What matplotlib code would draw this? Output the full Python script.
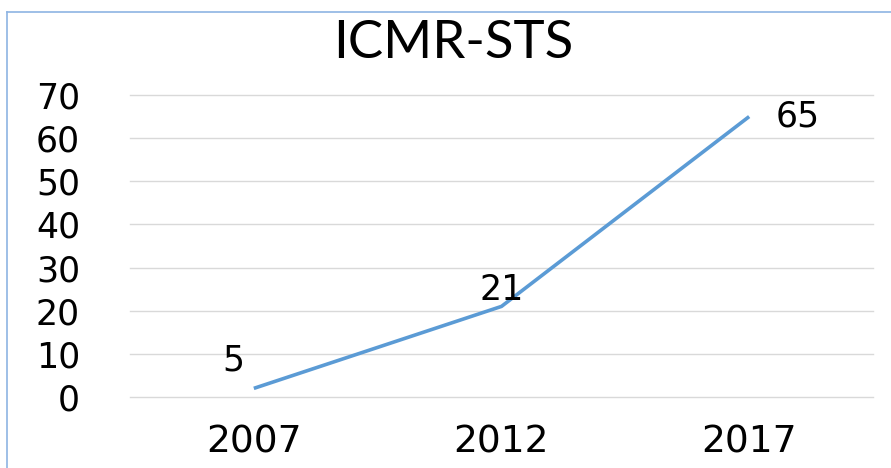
import matplotlib
matplotlib.use("Agg")
import matplotlib.pyplot as plt
from matplotlib.lines import Line2D

categories = ["2007", "2012", "2017"]
values = [2, 21, 65]
data_labels = ["5", "21", "65"]
yticks = [0, 10, 20, 30, 40, 50, 60, 70]

fig = plt.figure(figsize=(8.91, 4.68), dpi=100)
ax = fig.add_axes([130/891, 1-397/468, (873-130)/891, (397-95)/468])

x = list(range(len(categories)))
ax.plot(x, values, color="#5B9BD5", linewidth=2.6, solid_capstyle="butt", zorder=3)

ax.set_xlim(-0.5, len(categories) - 0.5)
ax.set_ylim(0, 70)
ax.set_yticks(yticks)
ax.set_yticklabels([str(t) for t in yticks])
ax.set_xticks(x)
ax.set_xticklabels(categories)
ax.grid(axis="y", color="#D9D9D9", linewidth=1.0)
for gl in ax.get_ygridlines():
    gl.set_clip_on(False)
ax.set_axisbelow(True)
for s in ax.spines.values():
    s.set_visible(False)
ax.tick_params(axis="both", length=0)
ax.tick_params(axis="y", labelsize=25, pad=36)
ax.tick_params(axis="x", labelsize=27, pad=20)
for lab in ax.get_yticklabels() + ax.get_xticklabels():
    lab.set_family("DejaVu Sans")

offsets = [(-15, 20), (0, 12), (35, 0)]
for xi, v, lab, off in zip(x, values, data_labels, offsets):
    ax.annotate(lab, (xi, v), xytext=off, textcoords="offset points",
                ha="center", va="center", fontsize=25, family="DejaVu Sans")

fig.text(453/891, 1-44/468, "ICMR-STS", ha="center", va="center",
         fontsize=38, family="Lato")

# frame border
fig.add_artist(Line2D([7/891, 7/891], [0, 1-12/468], transform=fig.transFigure,
                      color="#8EB4E3", linewidth=1.2))
fig.add_artist(Line2D([7/891, 1], [1-12/468, 1-12/468], transform=fig.transFigure,
                      color="#8EB4E3", linewidth=1.2))

fig.savefig("out.png", dpi=100)
